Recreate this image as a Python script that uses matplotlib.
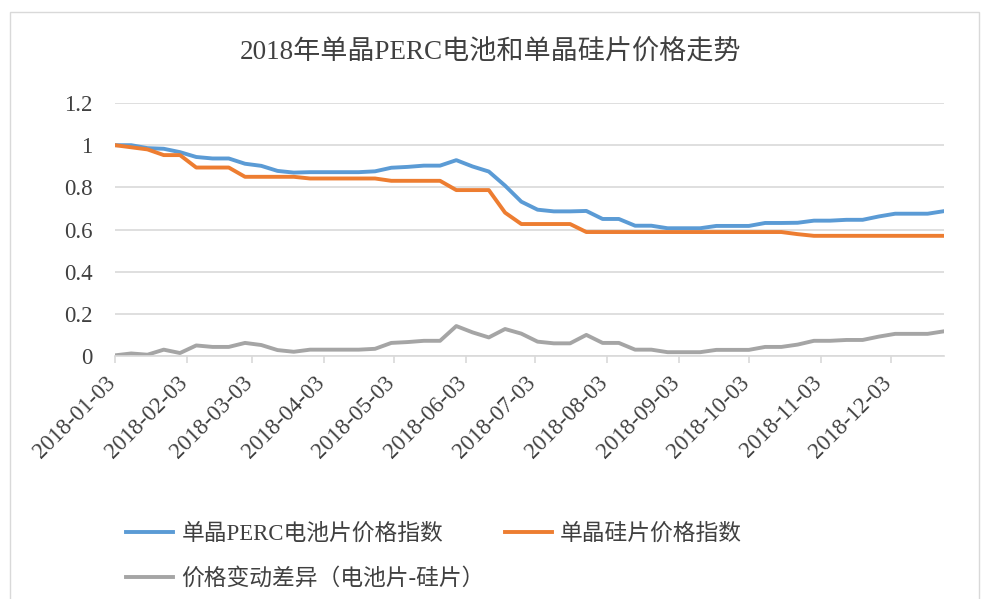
import numpy as np
import matplotlib
matplotlib.use("Agg")
import matplotlib.pyplot as plt
import matplotlib.dates as mdates
import matplotlib.transforms as mtrans
from matplotlib.patches import Rectangle

plt.rcParams['font.family'] = ['Liberation Serif', 'Noto Sans CJK SC']

# weekly observations, 2018
dates = np.arange(np.datetime64('2018-01-03'), np.datetime64('2018-12-27'), np.timedelta64(7, 'D'))

perc_index = [1.0, 1.0, 0.986, 0.983, 0.967, 0.944, 0.937, 0.937, 0.912, 0.902,
              0.878, 0.870, 0.872, 0.872, 0.872, 0.872, 0.876, 0.893, 0.897, 0.903,
              0.903, 0.929, 0.899, 0.875, 0.808, 0.732, 0.694, 0.686, 0.686, 0.688,
              0.650, 0.650, 0.618, 0.618, 0.606, 0.606, 0.606, 0.617, 0.617, 0.617,
              0.631, 0.631, 0.632, 0.642, 0.642, 0.646, 0.646, 0.662, 0.675, 0.675,
              0.675, 0.687]
wafer_index = [1.0, 0.99, 0.98, 0.953, 0.953, 0.894, 0.894, 0.894, 0.85, 0.85,
               0.85, 0.85, 0.842, 0.842, 0.842, 0.842, 0.842, 0.831, 0.831, 0.831,
               0.831, 0.787, 0.787, 0.787, 0.68, 0.626, 0.626, 0.626, 0.626, 0.588,
               0.588, 0.588, 0.588, 0.588, 0.588, 0.588, 0.588, 0.588, 0.588, 0.588,
               0.588, 0.588, 0.578, 0.570, 0.570, 0.570, 0.570, 0.570, 0.570, 0.570,
               0.570, 0.570]
spread = [0.003, 0.012, 0.006, 0.030, 0.014, 0.050, 0.043, 0.043, 0.062, 0.052,
          0.028, 0.020, 0.030, 0.030, 0.030, 0.030, 0.034, 0.062, 0.066, 0.072,
          0.072, 0.142, 0.112, 0.088, 0.128, 0.106, 0.068, 0.060, 0.060, 0.100,
          0.062, 0.062, 0.030, 0.030, 0.018, 0.018, 0.018, 0.029, 0.029, 0.029,
          0.043, 0.043, 0.054, 0.072, 0.072, 0.076, 0.076, 0.092, 0.105, 0.105,
          0.105, 0.117]

labels = ['单晶PERC电池片价格指数', '单晶硅片价格指数', '价格变动差异（电池片-硅片）']
colors = ['#5B9BD5', '#ED7D31', '#A5A5A5']

fig = plt.figure(figsize=(9.81, 5.99), dpi=100)
ax = fig.add_axes([0.1172, 0.4057, 0.845, 0.4223])

l1, = ax.plot(dates, perc_index, color=colors[0], lw=2.8, solid_joinstyle='round')
l2, = ax.plot(dates, wafer_index, color=colors[1], lw=2.8, solid_joinstyle='round')
l3, = ax.plot(dates, spread, color=colors[2], lw=2.8, solid_joinstyle='round')

ax.set_ylim(0, 1.2)
ax.set_yticks([0, 0.2, 0.4, 0.6, 0.8, 1.0, 1.2])
ax.set_yticklabels(['0', '0.2', '0.4', '0.6', '0.8', '1', '1.2'])
ax.set_xlim(dates[0], dates[-1])
ax.xaxis.set_major_locator(mdates.MonthLocator(bymonthday=3))
ax.xaxis.set_major_formatter(mdates.DateFormatter('%Y-%m-%d'))

ax.grid(axis='y', color='#D9D9D9', lw=1.2)
ax.set_axisbelow(True)
for s in ['top', 'right', 'left']:
    ax.spines[s].set_visible(False)
ax.spines['bottom'].set_color('#D9D9D9')
ax.spines['bottom'].set_linewidth(1.2)
ax.tick_params(axis='y', length=0, pad=16, labelsize=16.5, labelcolor='#404040')
ax.tick_params(axis='x', length=5, color='#D9D9D9', width=1.2, labelsize=16.5,
               labelcolor='#404040', pad=4)
shift = mtrans.ScaledTranslation(-10 / 100, -4 / 100, fig.dpi_scale_trans)
for t in ax.get_xticklabels():
    t.set_rotation(45)
    t.set_ha('right')
    t.set_rotation_mode('anchor')
    t.set_transform(t.get_transform() + shift)

fig.text(0.5, 0.912, '2018年单晶PERC电池和单晶硅片价格走势', ha='center', va='center',
         fontsize=19.5, color='#404040')

fig.legend([l1, l3, l2], [labels[0], labels[2], labels[1]], ncol=2,
           loc='upper left', bbox_to_anchor=(0.108, 0.160), frameon=False,
           fontsize=16.4, handlelength=2.06, handletextpad=0.35, columnspacing=0.9,
           labelspacing=1.0, labelcolor='#404040', bbox_transform=fig.transFigure)

fig.patches.append(Rectangle((10 / 981, -0.01), 969 / 981, 1 - 12 / 599 + 0.01,
                             transform=fig.transFigure, fill=False,
                             edgecolor='#D9D9D9', lw=1))

fig.savefig('out.png', dpi=100)
